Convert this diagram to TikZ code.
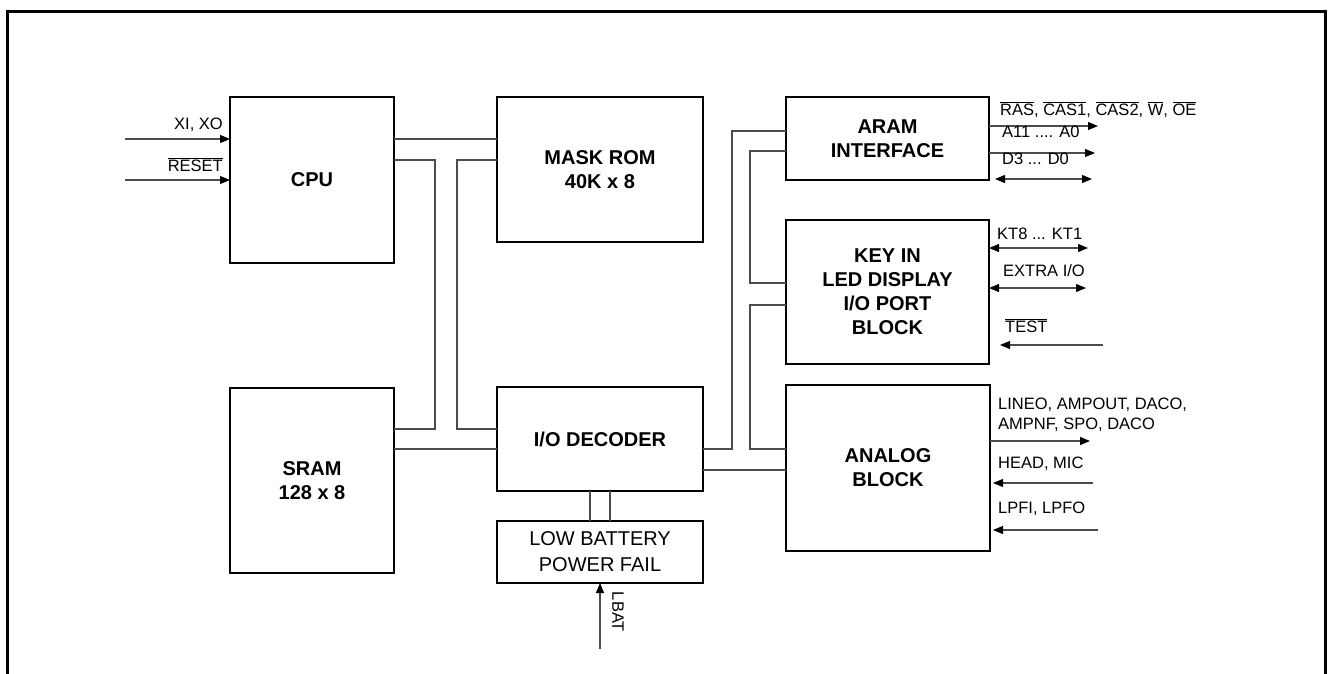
\documentclass[tikz,border=0pt]{standalone}
\usepackage{fontspec}
\setmainfont{Liberation Sans}
\usetikzlibrary{arrows.meta}
\newcommand{\ovl}[1]{$\overline{\mbox{#1}}$}
\begin{document}
\begin{tikzpicture}[x=1pt,y=-1pt,
  blk/.style={draw=black,line width=1.6pt,inner sep=0pt,outer sep=0pt,align=center,
    font=\fontsize{20}{24}\selectfont\bfseries},
  plainblk/.style={draw=black,line width=1.6pt,inner sep=0pt,outer sep=0pt,align=center,
    font=\fontsize{20}{26}\selectfont},
  wire/.style={draw=black!70,line width=1.1pt},
  tipa/.tip={Triangle[length=10pt,width=8pt,color=black]},
  sig/.style={draw=black!70,line width=1.1pt,-tipa},
  bisig/.style={draw=black!70,line width=1.1pt,tipa-tipa},
  lbl/.style={inner sep=0pt,font=\fontsize{16.5}{20}\selectfont}
]
\useasboundingbox (0,0) rectangle (1328,673);
% outer frame
\draw[line width=3pt] (7.5,690) -- (7.5,11.5) -- (1325.5,11.5) -- (1325.5,690);

% blocks
\node[blk,minimum width=164pt,minimum height=166pt] (cpu) at (312,180) {CPU};
\node[blk,minimum width=206pt,minimum height=145pt] (rom) at (600,169.5) {MASK ROM\\40K x 8};
\node[blk,minimum width=164pt,minimum height=185pt] (sram) at (312,480.5) {SRAM\\128 x 8};
\node[blk,minimum width=206pt,minimum height=104pt] (dec) at (600,439) {I/O DECODER};
\node[plainblk,minimum width=206pt,minimum height=62pt] (lowb) at (600,552) {LOW BATTERY\\POWER FAIL};
\node[blk,minimum width=203pt,minimum height=83pt] (aram) at (887.5,138.5) {ARAM\\INTERFACE};
\node[blk,minimum width=203pt,minimum height=144pt] (key) at (887.5,292) {KEY IN\\LED DISPLAY\\I/O PORT\\BLOCK};
\node[blk,minimum width=204pt,minimum height=166pt] (ana) at (888,468) {ANALOG\\BLOCK};

% bus wires
\draw[wire] (cpu.east |- 0,139) -- (rom.west |- 0,139);
\draw[wire] (cpu.east |- 0,160) -- (435,160) -- (435,429) -- (sram.east |- 0,429);
\draw[wire] (rom.west |- 0,160) -- (457,160) -- (457,429) -- (dec.west |- 0,429);
\draw[wire] (sram.east |- 0,449) -- (dec.west |- 0,449);
\draw[wire] (dec.south -| 590,0) -- (lowb.north -| 590,0);
\draw[wire] (dec.south -| 610,0) -- (lowb.north -| 610,0);
\draw[wire] (dec.east |- 0,449) -- (732,449) -- (732,131) -- (aram.west |- 0,131);
\draw[wire] (aram.west |- 0,151) -- (750,151) -- (750,283) -- (key.west |- 0,283);
\draw[wire] (key.west |- 0,305) -- (750,305) -- (750,449) -- (ana.west |- 0,449);
\draw[wire] (dec.east |- 0,470) -- (ana.west |- 0,470);

% free ends
\coordinate (xin) at (125,139);
\coordinate (rin) at (125,180);
\coordinate (lbat) at (600,649);
\coordinate (o1) at (1098,126);
\coordinate (o2) at (1095,153);
\coordinate (o3a) at (995,179);
\coordinate (o3b) at (1092,179);
\coordinate (k1) at (1088,248);
\coordinate (k2) at (1086,288);
\coordinate (t1) at (1103,345);
\coordinate (t2) at (1000,345);
\coordinate (a1) at (1090,441);
\coordinate (a2) at (1093,483);
\coordinate (a2t) at (993,483);
\coordinate (a3) at (1098,530);
\coordinate (a3t) at (993,530);

% signals
\draw[sig] (xin) -- (cpu.west |- xin);
\draw[sig] (rin) -- (cpu.west |- rin);
\draw[sig] (lbat) -- (lowb.south);
\draw[sig] (aram.east |- o1) -- (o1);
\draw[sig] (aram.east |- o2) -- (o2);
\draw[bisig] (o3a) -- (o3b);
\draw[bisig] (key.east |- k1) -- (k1);
\draw[bisig] (key.east |- k2) -- (k2);
\draw[sig] (t1) -- (t2);
\draw[sig] (ana.east |- a1) -- (a1);
\draw[sig] (a2) -- (a2t);
\draw[sig] (a3) -- (a3t);

% labels
\node[lbl,anchor=base east] (lxi) at (223,129) {XI, XO};
\node[lbl,anchor=base east] (lrst) at (223,171) {\ovl{RESET}};
\node[lbl,anchor=base west] (lras) at (1000,115) {\ovl{RAS}, \ovl{CAS1}, \ovl{CAS2}, \ovl{W}, \ovl{OE}};
\node[lbl,anchor=base west] (la11) at (1002,137) {A11 .... A0};
\node[lbl,anchor=base west] (ld3) at (1002,164) {D3 ... D0};
\node[lbl,anchor=base west] (lkt) at (997,239) {KT8 ... KT1};
\node[lbl,anchor=base west] (lext) at (1003,276) {EXTRA I/O};
\node[lbl,anchor=base west] (ltest) at (1005,332) {\ovl{TEST}};
\node[lbl,anchor=base west] (lline) at (998,409) {LINEO, AMPOUT, DACO,};
\node[lbl,anchor=base west] (lamp) at (998,429) {AMPNF, SPO, DACO};
\node[lbl,anchor=base west] (lhead) at (998,468) {HEAD, MIC};
\node[lbl,anchor=base west] (llpf) at (998,513) {LPFI, LPFO};
\node[lbl,rotate=-90] (llbat) at (618,612) {LBAT};
\end{tikzpicture}
\end{document}
